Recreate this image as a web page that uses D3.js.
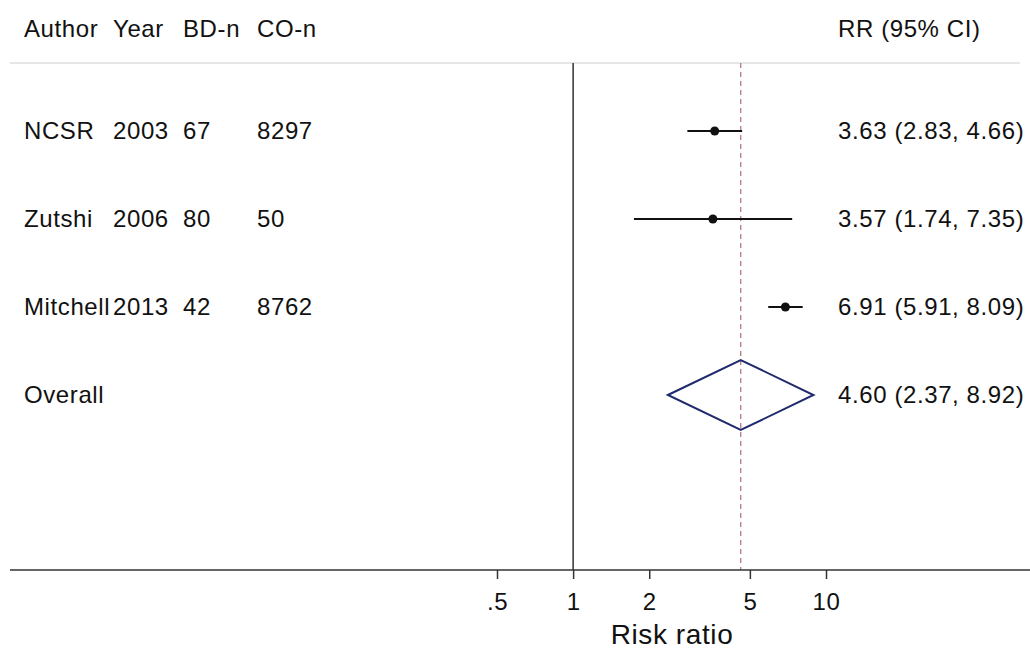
<!DOCTYPE html>
<html>
<head>
<meta charset="utf-8">
<script src="https://cdn.jsdelivr.net/npm/d3@7"></script>
<style>
  body { margin: 0; background: #fff; }
  text { font-family: "Liberation Sans", Arial, sans-serif; fill: #111; letter-spacing: 0.6px; }
</style>
</head>
<body>
<svg id="chart" width="1030" height="651"></svg>
<script>
// study table
const authors = ["NCSR", "Zutshi", "Mitchell"];
const years = ["2003", "2006", "2013"];
const bdN = ["67", "80", "42"];
const coN = ["8297", "50", "8762"];
const rr = [3.63, 3.57, 6.91];
const lower = [2.83, 1.74, 5.91];
const upper = [4.66, 7.35, 8.09];

// pooled estimate
const overall = {rr: 4.60, lo: 2.37, hi: 8.92};

const xTicks = [0.5, 1, 2, 5, 10];
const tickLabels = [".5", "1", "2", "5", "10"];
const headers = ["Author", "Year", "BD-n", "CO-n"];

let svg = d3.select("#chart");
let width = +svg.attr("width");
let fs = 24;

// log scale for risk ratio
let x = d3.scaleLog().domain([0.5, 10]).range([497, 826]);

let rows = authors.map((a, i) => i).concat(["overall"]);
let y = d3.scalePoint().domain(rows).range([131, 395]);

let colX = [24, 113, 183, 257];
let plotTop = 63, plotBottom = 570;

// header
svg.selectAll(".hdr")
  .data(headers)
  .enter().append("text")
    .attr("x", (d, i) => colX[i])
    .attr("y", 37)
    .attr("font-size", fs)
    .text(d => d);

svg.append("text")
  .attr("x", 838).attr("y", 37)
  .attr("font-size", fs)
  .text("RR (95% CI)");

svg.append("line")
  .attr("x1", 10).attr("x2", 1020)
  .attr("y1", plotTop).attr("y2", plotTop)
  .attr("stroke", "#e6e6e6").attr("stroke-width", 2);

// null line and pooled dashed line
svg.append("line")
  .attr("x1", x(1)).attr("x2", x(1))
  .attr("y1", plotTop).attr("y2", plotBottom)
  .attr("stroke", "#333").attr("stroke-width", 1.5);

svg.append("line")
  .attr("x1", x(overall.rr)).attr("x2", x(overall.rr))
  .attr("y1", plotTop).attr("y2", plotBottom)
  .attr("stroke", "#b07a86").attr("stroke-width", 1.3)
  .attr("stroke-dasharray", "5,4");

// study table text
let tbl = [authors, years, bdN, coN];
tbl.forEach((col, c) => {
  svg.selectAll(".col" + c)
    .data(col)
    .enter().append("text")
      .attr("x", colX[c])
      .attr("y", (d, i) => y(i) + 8)
      .attr("font-size", fs)
      .text(d => d);
});

svg.append("text")
  .attr("x", colX[0]).attr("y", y("overall") + 8)
  .attr("font-size", fs)
  .text("Overall");

// CI lines and points
svg.selectAll(".ci")
  .data(rr)
  .enter().append("line")
    .attr("x1", (d, i) => x(lower[i]))
    .attr("x2", (d, i) => x(upper[i]))
    .attr("y1", (d, i) => y(i))
    .attr("y2", (d, i) => y(i))
    .attr("stroke", "#111").attr("stroke-width", 2);

svg.selectAll(".pt")
  .data(rr)
  .enter().append("circle")
    .attr("cx", d => x(d))
    .attr("cy", (d, i) => y(i))
    .attr("r", 4.5)
    .attr("fill", "#111");

// diamond
let yo = y("overall"), hh = 35;
svg.append("path")
  .attr("d", `M${x(overall.lo)},${yo}L${x(overall.rr)},${yo - hh}L${x(overall.hi)},${yo}L${x(overall.rr)},${yo + hh}Z`)
  .attr("fill", "none").attr("stroke", "#1f2a6e").attr("stroke-width", 2);

// RR labels
let fmt = d3.format(".2f");
svg.selectAll(".rrlab")
  .data(rr)
  .enter().append("text")
    .attr("x", 838)
    .attr("y", (d, i) => y(i) + 8)
    .attr("font-size", fs)
    .text((d, i) => `${fmt(d)} (${fmt(lower[i])}, ${fmt(upper[i])})`);

svg.append("text")
  .attr("x", 838).attr("y", yo + 8)
  .attr("font-size", fs)
  .text(`${fmt(overall.rr)} (${fmt(overall.lo)}, ${fmt(overall.hi)})`);

// x axis
svg.append("line")
  .attr("x1", 10).attr("x2", width)
  .attr("y1", plotBottom).attr("y2", plotBottom)
  .attr("stroke", "#333").attr("stroke-width", 1.5);

let axis = svg.append("g")
  .attr("transform", "translate(0," + plotBottom + ")")
  .call(d3.axisBottom(x).tickValues(xTicks).tickFormat((d, i) => tickLabels[i]).tickSize(9).tickPadding(6));

axis.select(".domain").remove();
axis.selectAll("line").attr("stroke", "#333").attr("stroke-width", 1.5);
axis.selectAll("text")
  .attr("font-size", fs).attr("fill", "#111")
  .attr("y", 40).attr("dy", null)
  .style("font-family", '"Liberation Sans", Arial, sans-serif');

svg.append("text")
  .attr("x", 672).attr("y", 644)
  .attr("text-anchor", "middle")
  .attr("font-size", 28)
  .text("Risk ratio");
</script>
</body>
</html>
